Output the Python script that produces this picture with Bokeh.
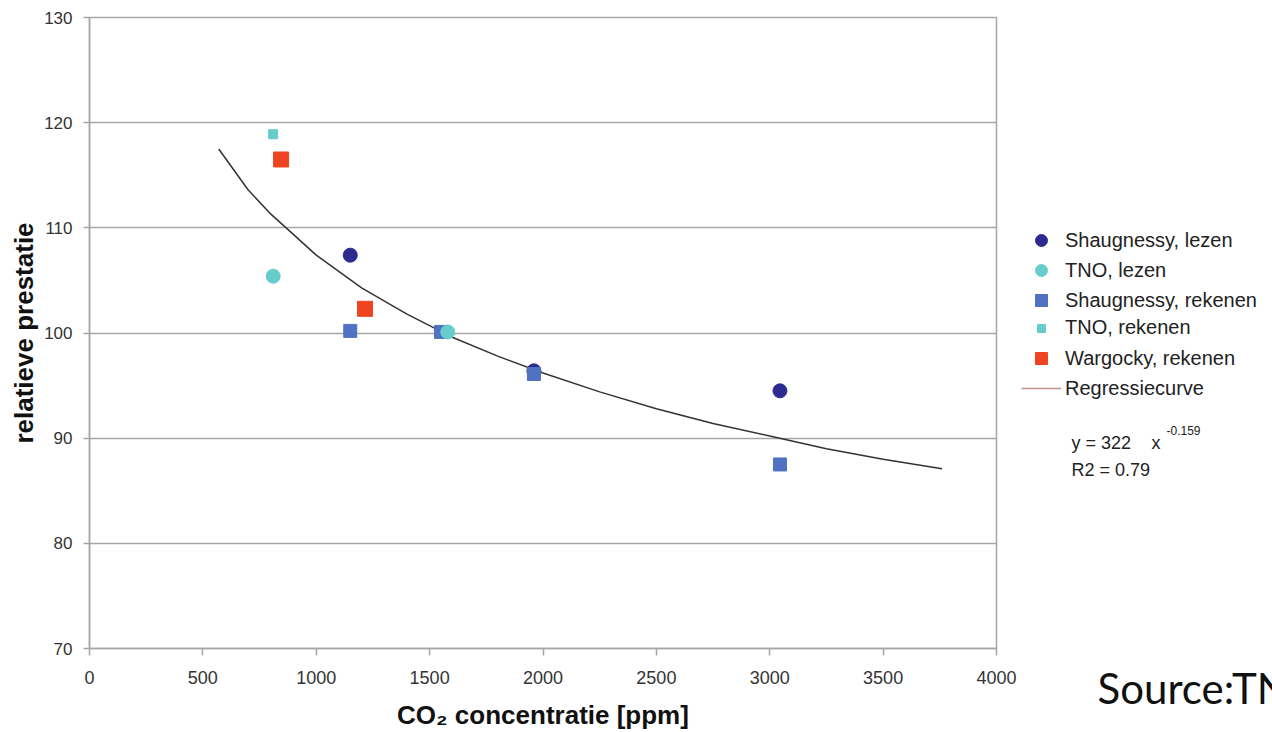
from bokeh.plotting import figure
from bokeh.layouts import row
from bokeh.models import Range1d, Legend, LegendItem, Label, FixedTicker
from bokeh.embed import file_html
from bokeh.resources import INLINE

# ---- data ----
shaug_lezen_x = [1150, 1960, 3045]
shaug_lezen_y = [107.4, 96.4, 94.5]

tno_lezen_x = [810, 1580]
tno_lezen_y = [105.4, 100.1]

shaug_rekenen_x = [1150, 1550, 1960, 3045]
shaug_rekenen_y = [100.2, 100.1, 96.1, 87.5]

tno_rekenen_x = [810]
tno_rekenen_y = [118.9]

wargocky_rekenen_x = [845, 1215]
wargocky_rekenen_y = [116.5, 102.3]

curve_x = [570, 700, 800, 1000, 1200, 1400, 1600, 1800, 2000, 2250, 2500, 2750, 3000, 3250, 3500, 3760]
curve_y = [117.5, 113.6, 111.3, 107.4, 104.3, 101.8, 99.6, 97.8, 96.2, 94.4, 92.8, 91.4, 90.2, 89.0, 88.0, 87.1]

x_ticks = [0, 500, 1000, 1500, 2000, 2500, 3000, 3500, 4000]
y_ticks = [70, 80, 90, 100, 110, 120, 130]

legend_labels = ["Shaugnessy, lezen", "TNO, lezen", "Shaugnessy, rekenen",
                 "TNO, rekenen", "Wargocky, rekenen", "Regressiecurve"]

NAVY = "#2d2a90"
CYAN = "#66cccc"
BLUE = "#5171c2"
RED = "#ee4422"
GRID = "#a6a6a6"
FONT = "Liberation Sans"

TOTAL_W, H = 1272, 732
MAIN_W = 1018
SIDE_W = TOTAL_W - MAIN_W

p = figure(width=MAIN_W, height=H, output_backend="svg", toolbar_location=None,
           x_range=Range1d(0, 4000), y_range=Range1d(70, 130),
           min_border_left=89, min_border_right=MAIN_W - 996,
           min_border_top=17, min_border_bottom=H - 648)
p.frame_align = False
p.background_fill_color = "white"
p.border_fill_color = "white"
p.outline_line_color = GRID
p.outline_line_width = 1.5

p.xgrid.grid_line_color = None
p.ygrid.grid_line_color = GRID
p.ygrid.grid_line_width = 1.5

p.xaxis.ticker = FixedTicker(ticks=x_ticks)
p.yaxis.ticker = FixedTicker(ticks=y_ticks)
for ax in (p.xaxis, p.yaxis):
    ax.axis_line_color = GRID
    ax.axis_line_width = 1.5
    ax.major_tick_line_color = GRID
    ax.major_tick_line_width = 1.5
    ax.major_tick_in = 0
    ax.minor_tick_line_color = None
    ax.major_label_text_font = FONT
    ax.major_label_text_color = "#333333"
    ax.axis_label_text_font = FONT
    ax.axis_label_text_font_style = "bold"
    ax.axis_label_text_color = "#111111"

p.xaxis.major_tick_out = 7
p.xaxis.major_label_standoff = 15
p.xaxis.major_label_text_font_size = "18px"
p.xaxis.axis_label = "CO\u2082 concentratie [ppm]"
p.xaxis.axis_label_standoff = 13
p.xaxis.axis_label_text_font_size = "26px"

p.yaxis.major_tick_out = 6
p.yaxis.major_label_standoff = 11
p.yaxis.major_label_text_font_size = "17px"
p.yaxis.axis_label = "relatieve prestatie"
p.yaxis.axis_label_standoff = 2
p.yaxis.axis_label_text_font_size = "26px"

# regression curve
p.line(curve_x, curve_y, line_color="#333333", line_width=1.5)

# points (draw order matching overlaps in the reference)
p.scatter(shaug_lezen_x, shaug_lezen_y, marker="circle", size=14,
          fill_color=NAVY, line_color=NAVY)
p.scatter(shaug_rekenen_x, shaug_rekenen_y, marker="square", size=13,
          fill_color=BLUE, line_color=BLUE)
p.scatter(tno_lezen_x, tno_lezen_y, marker="circle", size=14,
          fill_color=CYAN, line_color=CYAN)
p.scatter(tno_rekenen_x, tno_rekenen_y, marker="square", size=9,
          fill_color=CYAN, line_color=CYAN)
p.scatter(wargocky_rekenen_x, wargocky_rekenen_y, marker="square", size=15,
          fill_color=RED, line_color=RED)

# ---- side panel: legend, equation, source (pixel-unit ranges, y downwards) ----
s = figure(width=SIDE_W, height=H, output_backend="svg", toolbar_location=None,
           x_range=Range1d(0, SIDE_W), y_range=Range1d(H, 0),
           x_axis_type=None, y_axis_type=None, title=None,
           min_border_left=0, min_border_right=0, min_border_top=0, min_border_bottom=0)
s.frame_align = False
s.outline_line_color = None
s.grid.visible = False
s.background_fill_color = "white"
s.border_fill_color = "white"

# legend-only copies of the series (their data lies outside this panel's ranges)
k_sl = s.scatter(shaug_lezen_x, shaug_lezen_y, marker="circle", fill_color=NAVY, line_color=NAVY)
k_tl = s.scatter(tno_lezen_x, tno_lezen_y, marker="circle", fill_color=CYAN, line_color=CYAN)
k_sr = s.scatter(shaug_rekenen_x, shaug_rekenen_y, marker="square", fill_color=BLUE, line_color=BLUE)
k_tr = s.scatter(tno_rekenen_x, tno_rekenen_y, marker="square", fill_color=CYAN, line_color=CYAN)
k_wr = s.scatter(wargocky_rekenen_x, wargocky_rekenen_y, marker="square", fill_color=RED, line_color=RED)
k_ln = s.line(curve_x, curve_y, line_color="#c49090", line_width=1.5)

LEG_X = 1021 - MAIN_W

def make_legend(items, glyph_h, top):
    height = len(items) * glyph_h
    lg = Legend(items=items, location=(LEG_X, H - (top + height)),
                glyph_width=40, glyph_height=glyph_h, label_height=glyph_h,
                spacing=0, padding=0, margin=0, label_standoff=4,
                border_line_color=None, background_fill_alpha=0,
                label_text_font=FONT, label_text_font_size="20px",
                label_text_color="#222222")
    s.add_layout(lg, "center")

make_legend([LegendItem(label=legend_labels[0], renderers=[k_sl]),
             LegendItem(label=legend_labels[1], renderers=[k_tl]),
             LegendItem(label=legend_labels[2], renderers=[k_sr])], 30, 225)
make_legend([LegendItem(label=legend_labels[3], renderers=[k_tr])], 20, 319)
make_legend([LegendItem(label=legend_labels[4], renderers=[k_wr]),
             LegendItem(label=legend_labels[5], renderers=[k_ln])], 30, 343)

def add_text(px, py, text, size, font=FONT, color="#222222"):
    s.add_layout(Label(x=px - MAIN_W, y=py, text=text, text_font=font,
                       text_font_size=size, text_color=color,
                       text_baseline="alphabetic"))

add_text(1071, 442, "y = 322", "18px")
add_text(1151, 442, "x", "18px")
add_text(1166, 430, "-0.159", "12px")
add_text(1071, 469, "R2 = 0.79", "18px")
add_text(1097, 687, "Source:TNO", "42px", font="Lato", color="#111111")

layout = row(p, s, spacing=0)
open("out.html", "w").write(file_html(layout, INLINE))
